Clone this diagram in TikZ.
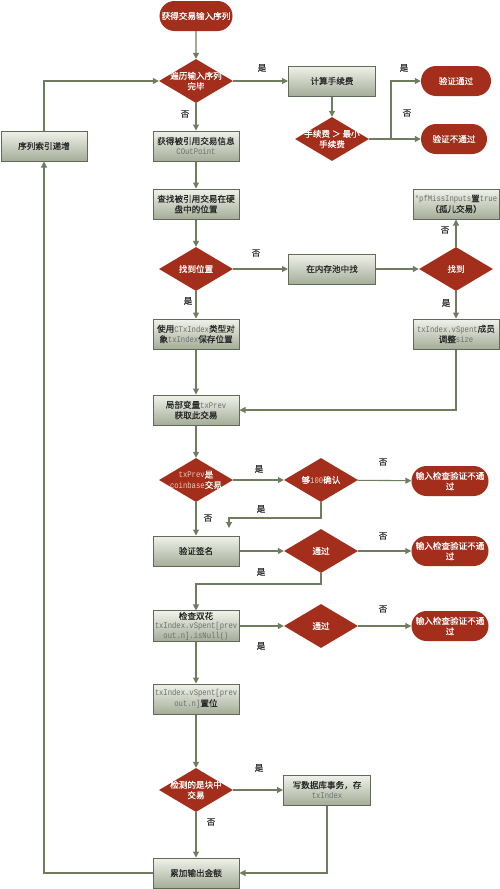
\documentclass[tikz,border=0pt]{standalone}
\usepackage{fontspec}
\setmainfont{Noto Sans CJK SC}[FakeBold=0.4]
\newfontfamily\latinmono[FakeStretch=0.84]{Liberation Mono}
\usetikzlibrary{arrows.meta,shapes.geometric,shapes.misc}
\definecolor{darkred}{RGB}{163,46,27}
\definecolor{boxtop}{RGB}{240,242,234}
\definecolor{boxbot}{RGB}{164,173,152}
\definecolor{boxline}{RGB}{95,107,87}
\definecolor{arrowc}{RGB}{112,124,96}
\definecolor{lblc}{RGB}{50,50,50}
\definecolor{latgray}{RGB}{110,110,110}
\definecolor{latpink}{RGB}{245,200,185}
\newcommand{\lt}[1]{{\latinmono\color{latgray}#1}}
\newcommand{\lp}[1]{{\latinmono\color{latpink}#1}}
\tikzset{
  every node/.style={font=\fontsize{8.6}{10.5}\selectfont},
  procbox/.style={rectangle, draw=boxline, line width=1pt, top color=boxtop, bottom color=boxbot,
    minimum width=86pt, minimum height=30pt, inner sep=1pt, align=center, text=black!85},
  termbox/.style={rounded rectangle, fill=darkred, text=white, minimum width=75pt, minimum height=30pt,
    inner sep=1pt, align=center},
  decbox/.style={diamond, fill=darkred, minimum width=74pt, minimum height=44pt, inner sep=0pt},
  dectext/.style={text=white, align=center},
  conn/.style={draw=arrowc, line width=1.1pt, -{Triangle[length=6pt,width=6pt]}},
  plainconn/.style={draw=arrowc, line width=1.1pt},
  lbl/.style={text=lblc}
}
\begin{document}
\begin{tikzpicture}[x=1pt,y=-1pt]
\useasboundingbox (0,0) rectangle (500,889);
% terminals
\node[termbox] (start) at (196,16) {获得交易输入序列};
\node[termbox, minimum width=72pt] (pass) at (456,81) {验证通过};
\node[termbox, minimum width=68pt] (fail0) at (454,139) {验证不通过};
\node[termbox] (f1) at (450,481) {输入检查验证不通\\过};
\node[termbox] (f2) at (450,551) {输入检查验证不通\\过};
\node[termbox] (f3) at (450,626) {输入检查验证不通\\过};
% decisions
\node[decbox] (d1) at (196,81) {}; \node[dectext] (t1) at (d1) {遍历输入序列\\完毕};
\node[decbox] (d2) at (332,139) {}; \node[dectext] (t2) at (d2) {手续费 ＞ 最小\\手续费};
\node[decbox] (d3) at (196,269) {}; \node[dectext] (t3) at (d3) {找到位置};
\node[decbox] (d4) at (456,269) {}; \node[dectext] (t4) at (d4) {找到};
\node[decbox] (d5) at (196,480) {}; \node[dectext] (t5) at (d5) {\lp{txPrev}是\\\lp{coinbase}交易};
\node[decbox] (d6) at (321,480) {}; \node[dectext] (t6) at (d6) {够\lp{100}确认};
\node[decbox] (d7) at (321,551) {}; \node[dectext] (t7) at (d7) {通过};
\node[decbox] (d8) at (321,626) {}; \node[dectext] (t8) at (d8) {通过};
\node[decbox] (d9) at (196,790) {}; \node[dectext] (t9) at (d9) {检测的是块中\\交易};
% process boxes
\node[procbox, minimum width=87pt] (fee) at (332,81) {计算手续费};
\node[procbox] (inc) at (44,146) {序列索引递增};
\node[procbox] (getinfo) at (196,146) {获得被引用交易信息\\\lt{COutPoint}};
\node[procbox] (find) at (196,204) {查找被引用交易在硬\\盘中的位置};
\node[procbox, minimum width=87pt] (mem) at (332,269) {在内存池中找};
\node[procbox] (orphan) at (456,204) {\lt{*pfMissInputs}置\lt{true}\\（孤儿交易）};
\node[procbox] (adjust) at (456,334) {\lt{txIndex.vSpent}成员\\调整\lt{size}};
\node[procbox] (use) at (196,334) {使用\lt{CTxIndex}类型对\\象\lt{txIndex}保存位置};
\node[procbox] (prev) at (196,410) {局部变量\lt{txPrev}\\获取此交易};
\node[procbox] (sig) at (196,551) {验证签名};
\node[procbox, font=\fontsize{8.6}{9.5}\selectfont] (dbl) at (196,626) {检查双花\\\lt{txIndex.vSpent[prev}\\\lt{out.n].isNull()}};
\node[procbox] (setb) at (196,699) {\lt{txIndex.vSpent[prev}\\\lt{out.n]}置位};
\node[procbox, minimum width=87pt] (db) at (327,790) {写数据库事务，存\\\lt{txIndex}};
\node[procbox] (acc) at (196,873) {累加输出金额};
% helper coordinates
\coordinate (br) at (391,139);
\coordinate (yesfree) at (229,528);
% connectors
\draw[conn] (start) -- (d1);
\draw[conn] (d1) -- (fee);
\draw[conn] (fee) -- (d2);
\draw[plainconn] (d2.east) -- (br);
\draw[conn] (br) |- (pass.west);
\draw[conn] (br) -- (fail0.west);
\draw[conn] (d1) -- (getinfo);
\draw[conn] (getinfo) -- (find);
\draw[conn] (find) -- (d3);
\draw[conn] (d3) -- (mem);
\draw[conn] (mem) -- (d4);
\draw[conn] (d4) -- (orphan);
\draw[conn] (d4) -- (adjust);
\draw[conn] (d3) -- (use);
\draw[conn] (use) -- (prev);
\draw[conn] (adjust.south) |- (prev.east);
\draw[conn] (prev) -- (d5);
\draw[conn] (d5) -- (d6);
\draw[conn] (d6) -- (f1);
\draw[conn] (d6.south) |- (yesfree |- 0,518) -- (yesfree);
\draw[conn] (d5) -- (sig);
\draw[conn] (sig) -- (d7);
\draw[conn] (d7) -- (f2);
\draw[conn] (d7.south) |- (196,584) -- (dbl.north);
\draw[conn] (dbl) -- (d8);
\draw[conn] (d8) -- (f3);
\draw[conn] (dbl) -- (setb);
\draw[conn] (setb) -- (d9);
\draw[conn] (d9) -- (db);
\draw[conn] (d9) -- (acc);
\draw[conn] (db.south) |- (acc.east);
\draw[conn] (acc.west) -| (inc.south);
\draw[conn] (inc.north) |- (d1.west);
% labels
\node[lbl] (l1) at (262,68) {是};
\node[lbl] (l2) at (404,68) {是};
\node[lbl] (l3) at (407,113) {否};
\node[lbl] (l4) at (185,114) {否};
\node[lbl] (l5) at (256,253) {否};
\node[lbl] (l6) at (445,230) {否};
\node[lbl] (l7) at (446,303) {是};
\node[lbl] (l8) at (188,301) {是};
\node[lbl] (l9) at (259,469) {是};
\node[lbl] (l10) at (383,462) {否};
\node[lbl] (l11) at (261,509) {是};
\node[lbl] (l12) at (208,518) {否};
\node[lbl] (l13) at (383,536) {否};
\node[lbl] (l14) at (261,572) {是};
\node[lbl] (l15) at (383,609) {否};
\node[lbl] (l16) at (261,646) {是};
\node[lbl] (l17) at (259,768) {是};
\node[lbl] (l18) at (211,822) {否};
\end{tikzpicture}
\end{document}
